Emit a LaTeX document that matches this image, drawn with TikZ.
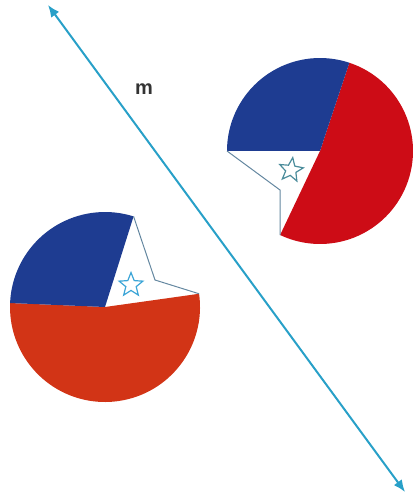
\documentclass[tikz,border=0pt]{standalone}
\usepackage{fontspec}
\setmainfont{Liberation Sans}
\usetikzlibrary{arrows.meta,shapes.geometric,calc}
\definecolor{flagblue}{RGB}{30,60,145}
\definecolor{redA}{RGB}{210,52,22}
\definecolor{redB}{RGB}{205,12,22}
\definecolor{axis}{RGB}{40,160,200}
\definecolor{edge}{RGB}{100,135,160}
\definecolor{starA}{RGB}{60,165,215}
\definecolor{starB}{RGB}{75,140,155}
\tikzset{
  mirror/.style={draw=axis, line width=2pt, {Latex[length=12pt,width=10pt]}-{Latex[length=12pt,width=10pt]}},
  notch/.style={draw=edge, line width=1pt, line join=miter},
  starmark/.style={star, star points=5, star point ratio=2.3, minimum size=25pt, inner sep=0pt, draw, line width=1.2pt, fill=white},
  lbl/.style={font=\fontsize{20}{24}\selectfont\bfseries, text=black!80},
}
\begin{document}
\begin{tikzpicture}[x=1pt,y=-1pt]
\useasboundingbox (0,0) rectangle (412,497);
% lower-left disc
\coordinate (cA) at (105,307);
\coordinate (nA) at (155,280);
\fill[redA] (cA) -- ($(cA)+(-8:95)$) arc[start angle=-8, end angle=182.4, radius=95] -- cycle;
\fill[flagblue] (cA) -- ($(cA)+(182.4:95)$) arc[start angle=182.4, end angle=287.5, radius=95] -- cycle;
\draw[notch] ($(cA)+(287.5:95)$) -- (nA) -- ($(cA)+(-8:95)$);
\node[starmark, draw=starA] (starA) at (131,285) {};
% upper-right disc
\coordinate (cB) at (320,151);
\coordinate (nB) at (280,190);
\fill[redB] (cB) -- ($(cB)+(-71.6:93)$) arc[start angle=-71.6, end angle=115.4, radius=93] -- cycle;
\fill[flagblue] (cB) -- ($(cB)+(180:93)$) arc[start angle=180, end angle=288.4, radius=93] -- cycle;
\draw[notch] ($(cB)+(180:93)$) -- (nB) -- ($(cB)+(115.4:93)$);
\node[starmark, draw=starB, rotate=-8] (starB) at (291,170) {};
% mirror line
\coordinate (mtop) at (48,5);
\coordinate (mbot) at (405,492);
\draw[mirror] (mtop) -- (mbot);
\node[lbl] (mlabel) at (144,89) {m};
\end{tikzpicture}
\end{document}
